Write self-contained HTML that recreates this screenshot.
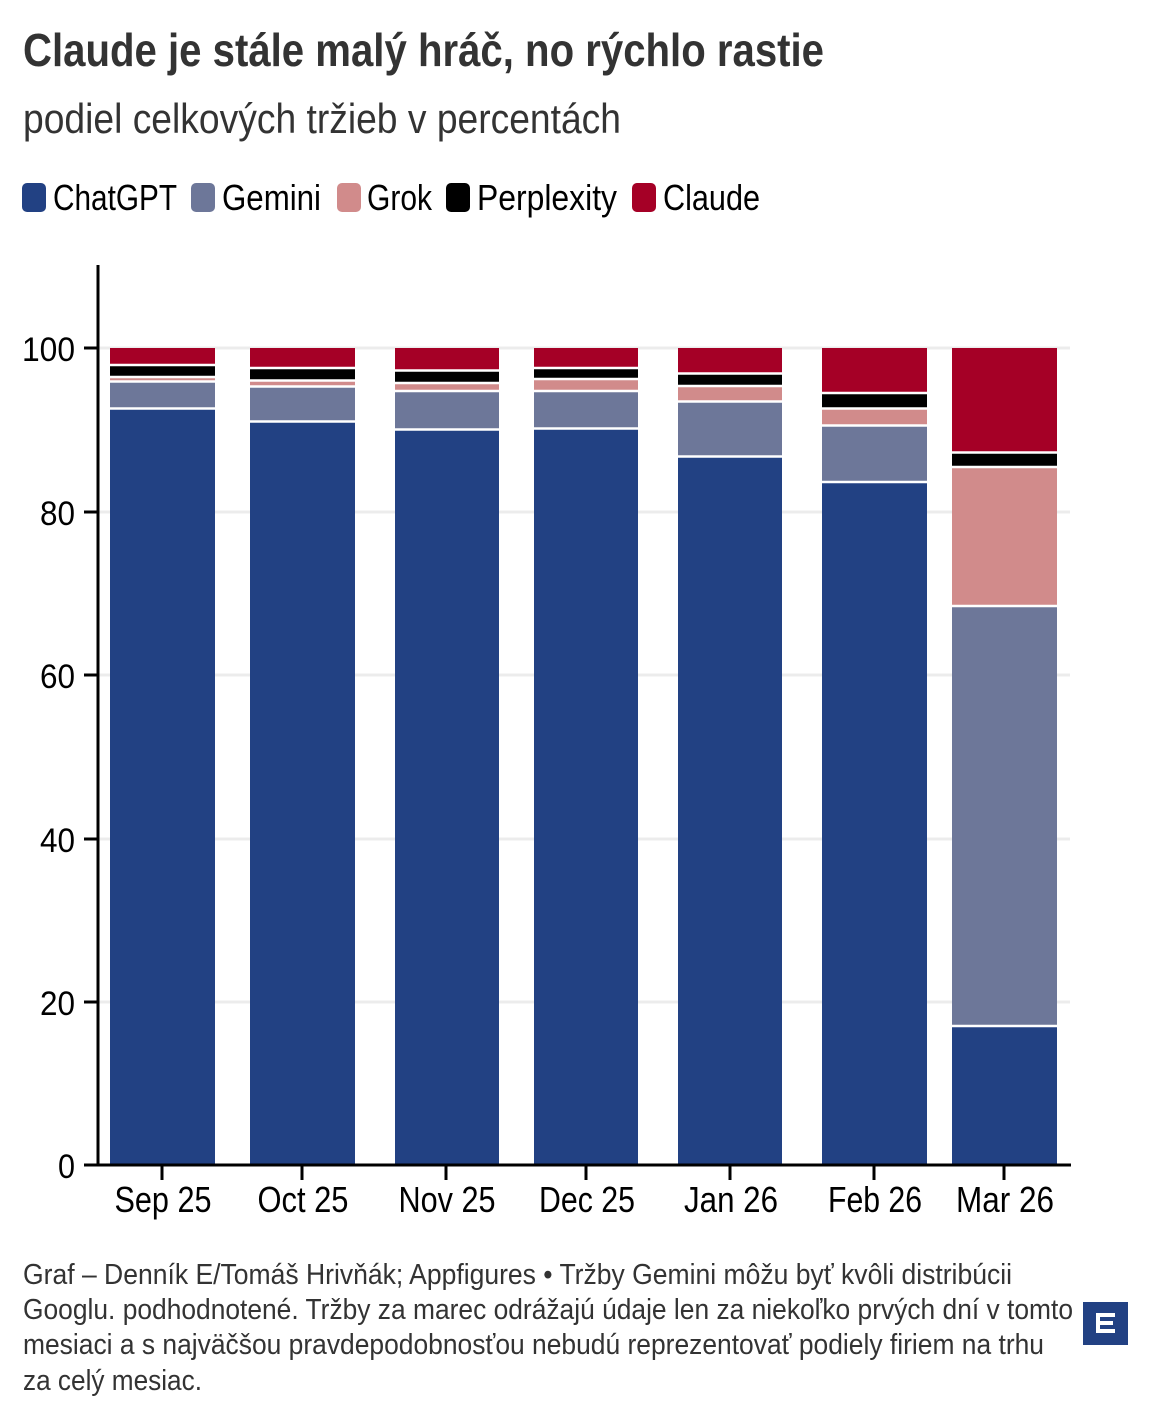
<!DOCTYPE html>
<html><head><meta charset="utf-8"><style>body{margin:0;background:#fff}svg{display:block}text{font-family:"Liberation Sans",sans-serif}</style></head><body>
<svg width="1150" height="1422" viewBox="0 0 1150 1422" xmlns="http://www.w3.org/2000/svg">
<text x="23" y="66" font-size="46" font-weight="bold" fill="#333" textLength="801" lengthAdjust="spacingAndGlyphs">Claude je stále malý hráč, no rýchlo rastie</text>
<text x="23" y="133" font-size="42" fill="#333" textLength="598" lengthAdjust="spacingAndGlyphs">podiel celkových tržieb v percentách</text>
<g font-size="36" fill="#000">
<rect x="22" y="183" width="24" height="29" rx="5" fill="#224183"/><text x="53" y="210" textLength="124" lengthAdjust="spacingAndGlyphs">ChatGPT</text>
<rect x="191" y="183" width="24" height="29" rx="5" fill="#6d7799"/><text x="222" y="210" textLength="99" lengthAdjust="spacingAndGlyphs">Gemini</text>
<rect x="337" y="183" width="24" height="29" rx="5" fill="#d18b8b"/><text x="367" y="210" textLength="65" lengthAdjust="spacingAndGlyphs">Grok</text>
<rect x="446" y="183" width="24" height="29" rx="5" fill="#000"/><text x="477" y="210" textLength="140" lengthAdjust="spacingAndGlyphs">Perplexity</text>
<rect x="632" y="183" width="24" height="29" rx="5" fill="#a50026"/><text x="663" y="210" textLength="97" lengthAdjust="spacingAndGlyphs">Claude</text>
</g>
<g stroke="#ececec" stroke-width="3">
<line x1="98" x2="1070" y1="348" y2="348"/><line x1="98" x2="1070" y1="512" y2="512"/><line x1="98" x2="1070" y1="675" y2="675"/><line x1="98" x2="1070" y1="839" y2="839"/><line x1="98" x2="1070" y1="1002" y2="1002"/>
</g>
<g id="bars">
<rect x="110" y="348" width="105" height="17" fill="#a50026"/><rect x="110" y="365" width="105" height="12" fill="#000"/><rect x="110" y="377" width="105" height="4.5" fill="#d18b8b"/><rect x="110" y="381.5" width="105" height="27" fill="#6d7799"/><rect x="110" y="408.5" width="105" height="756.5" fill="#224183"/>
<rect x="250" y="348" width="105" height="20" fill="#a50026"/><rect x="250" y="368" width="105" height="12.5" fill="#000"/><rect x="250" y="380.5" width="105" height="6" fill="#d18b8b"/><rect x="250" y="386.5" width="105" height="35" fill="#6d7799"/><rect x="250" y="421.5" width="105" height="743.5" fill="#224183"/>
<rect x="395" y="348" width="104" height="22.5" fill="#a50026"/><rect x="395" y="370.5" width="104" height="12.5" fill="#000"/><rect x="395" y="383" width="104" height="8" fill="#d18b8b"/><rect x="395" y="391" width="104" height="38.5" fill="#6d7799"/><rect x="395" y="429.5" width="104" height="735.5" fill="#224183"/>
<rect x="534" y="348" width="104" height="20" fill="#a50026"/><rect x="534" y="368" width="104" height="11" fill="#000"/><rect x="534" y="379" width="104" height="12" fill="#d18b8b"/><rect x="534" y="391" width="104" height="37.5" fill="#6d7799"/><rect x="534" y="428.5" width="104" height="736.5" fill="#224183"/>
<rect x="678" y="348" width="104" height="25.5" fill="#a50026"/><rect x="678" y="373.5" width="104" height="12.5" fill="#000"/><rect x="678" y="386" width="104" height="15.5" fill="#d18b8b"/><rect x="678" y="401.5" width="104" height="55" fill="#6d7799"/><rect x="678" y="456.5" width="104" height="708.5" fill="#224183"/>
<rect x="822" y="348" width="105" height="45" fill="#a50026"/><rect x="822" y="393" width="105" height="15.5" fill="#000"/><rect x="822" y="408.5" width="105" height="17" fill="#d18b8b"/><rect x="822" y="425.5" width="105" height="56.5" fill="#6d7799"/><rect x="822" y="482" width="105" height="683" fill="#224183"/>
<rect x="952" y="348" width="105" height="104.5" fill="#a50026"/><rect x="952" y="452.5" width="105" height="14.5" fill="#000"/><rect x="952" y="467" width="105" height="139" fill="#d18b8b"/><rect x="952" y="606" width="105" height="420" fill="#6d7799"/><rect x="952" y="1026" width="105" height="139" fill="#224183"/>
</g>
<g stroke="#fff" stroke-width="2.5">
<line x1="110" x2="215" y1="365" y2="365"/><line x1="110" x2="215" y1="377" y2="377"/><line x1="110" x2="215" y1="381.5" y2="381.5"/><line x1="110" x2="215" y1="408.5" y2="408.5"/>
<line x1="250" x2="355" y1="368" y2="368"/><line x1="250" x2="355" y1="380.5" y2="380.5"/><line x1="250" x2="355" y1="386.5" y2="386.5"/><line x1="250" x2="355" y1="421.5" y2="421.5"/>
<line x1="395" x2="499" y1="370.5" y2="370.5"/><line x1="395" x2="499" y1="383" y2="383"/><line x1="395" x2="499" y1="391" y2="391"/><line x1="395" x2="499" y1="429.5" y2="429.5"/>
<line x1="534" x2="638" y1="368" y2="368"/><line x1="534" x2="638" y1="379" y2="379"/><line x1="534" x2="638" y1="391" y2="391"/><line x1="534" x2="638" y1="428.5" y2="428.5"/>
<line x1="678" x2="782" y1="373.5" y2="373.5"/><line x1="678" x2="782" y1="386" y2="386"/><line x1="678" x2="782" y1="401.5" y2="401.5"/><line x1="678" x2="782" y1="456.5" y2="456.5"/>
<line x1="822" x2="927" y1="393" y2="393"/><line x1="822" x2="927" y1="408.5" y2="408.5"/><line x1="822" x2="927" y1="425.5" y2="425.5"/><line x1="822" x2="927" y1="482" y2="482"/>
<line x1="952" x2="1057" y1="452.5" y2="452.5"/><line x1="952" x2="1057" y1="467" y2="467"/><line x1="952" x2="1057" y1="606" y2="606"/><line x1="952" x2="1057" y1="1026" y2="1026"/>
</g>
<g stroke="#000" stroke-width="3">
<line x1="98" x2="98" y1="265" y2="1166"/><line x1="97" x2="1071" y1="1165" y2="1165"/>
<line x1="84" x2="98" y1="348" y2="348"/><line x1="84" x2="98" y1="512" y2="512"/><line x1="84" x2="98" y1="675" y2="675"/><line x1="84" x2="98" y1="839" y2="839"/><line x1="84" x2="98" y1="1002" y2="1002"/><line x1="84" x2="98" y1="1165" y2="1165"/>
<line x1="162" x2="162" y1="1165" y2="1180"/><line x1="302" x2="302" y1="1165" y2="1180"/><line x1="446" x2="446" y1="1165" y2="1180"/><line x1="586" x2="586" y1="1165" y2="1180"/><line x1="730" x2="730" y1="1165" y2="1180"/><line x1="874" x2="874" y1="1165" y2="1180"/><line x1="1004" x2="1004" y1="1165" y2="1180"/>
</g>
<g font-size="34" fill="#000" text-anchor="end">
<text x="75" y="361" textLength="53" lengthAdjust="spacingAndGlyphs">100</text>
<text x="75" y="525" textLength="35" lengthAdjust="spacingAndGlyphs">80</text>
<text x="75" y="688" textLength="35" lengthAdjust="spacingAndGlyphs">60</text>
<text x="75" y="852" textLength="35" lengthAdjust="spacingAndGlyphs">40</text>
<text x="75" y="1015" textLength="35" lengthAdjust="spacingAndGlyphs">20</text>
<text x="75" y="1178" textLength="17" lengthAdjust="spacingAndGlyphs">0</text>
</g>
<g font-size="36" fill="#000" text-anchor="middle">
<text x="163" y="1212" textLength="97" lengthAdjust="spacingAndGlyphs">Sep 25</text>
<text x="303" y="1212" textLength="91" lengthAdjust="spacingAndGlyphs">Oct 25</text>
<text x="447" y="1212" textLength="97" lengthAdjust="spacingAndGlyphs">Nov 25</text>
<text x="587" y="1212" textLength="96" lengthAdjust="spacingAndGlyphs">Dec 25</text>
<text x="731" y="1212" textLength="94" lengthAdjust="spacingAndGlyphs">Jan 26</text>
<text x="875" y="1212" textLength="94" lengthAdjust="spacingAndGlyphs">Feb 26</text>
<text x="1005" y="1212" textLength="98" lengthAdjust="spacingAndGlyphs">Mar 26</text>
</g>
<g font-size="29" fill="#333">
<text x="23" y="1284" textLength="989" lengthAdjust="spacingAndGlyphs">Graf – Denník E/Tomáš Hrivňák; Appfigures • Tržby Gemini môžu byť kvôli distribúcii</text>
<text x="23" y="1319" textLength="1050" lengthAdjust="spacingAndGlyphs">Googlu. podhodnotené. Tržby za marec odrážajú údaje len za niekoľko prvých dní v tomto</text>
<text x="23" y="1354" textLength="1021" lengthAdjust="spacingAndGlyphs">mesiaci a s najväčšou pravdepodobnosťou nebudú reprezentovať podiely firiem na trhu</text>
<text x="23" y="1390" textLength="179" lengthAdjust="spacingAndGlyphs">za celý mesiac.</text>
</g>
<rect x="1083" y="1302" width="45" height="43" fill="#224183"/>
<path d="M1096 1313 h19 v4 h-15 v4 h13 v4 h-13 v4 h15 v4 h-19 z" fill="#fff"/>
</svg>
</body></html>
